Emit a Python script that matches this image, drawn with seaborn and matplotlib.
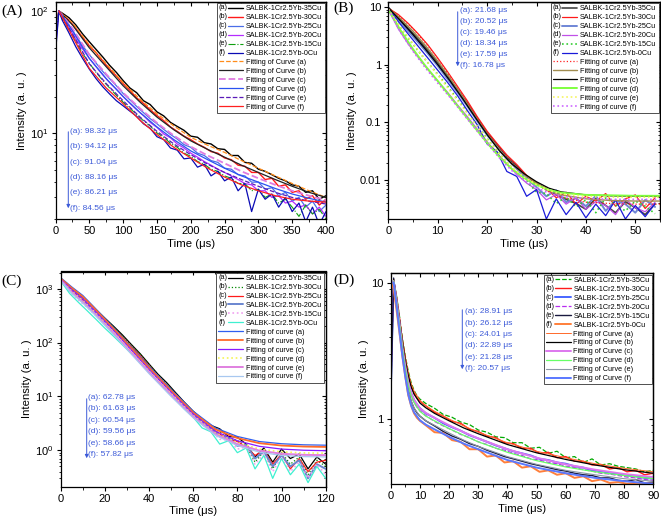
import numpy as np
import matplotlib
matplotlib.use("Agg")
import matplotlib.pyplot as plt
import matplotlib.ticker as mticker
from matplotlib.legend_handler import HandlerLine2D
from matplotlib.text import Text
import seaborn as sns

# ------------------ DATA ------------------
SAMPLES = ["SALBK-1Cr2.5Yb-35Cu", "SALBK-1Cr2.5Yb-30Cu", "SALBK-1Cr2.5Yb-25Cu",
           "SALBK-1Cr2.5Yb-20Cu", "SALBK-1Cr2.5Yb-15Cu", "SALBK-1Cr2.5Yb-0Cu"]
TAGS = ["a", "b", "c", "d", "e", "f"]

# panel (A)
A_TIME = [0, 5, 10, 20, 30, 40, 50, 60, 70, 80, 90, 100, 110, 120, 130, 140, 150, 160, 170, 180,
          190, 200, 210, 220, 230, 240, 250, 260, 270, 280, 290, 300, 310, 320, 330, 340, 350,
          360, 370, 380, 390, 400]
A_A = [70, 100, 96, 88, 77, 65, 56, 48.5, 42, 36, 31.5, 27, 23.5, 21.5, 18.5, 17.2, 15.0, 13.9,
       12.3, 11.4, 10.6, 9.5, 9.3, 8.4, 8.2, 7.5, 7.4, 6.6, 6.6, 5.8, 5.7, 5.1, 4.9, 4.6, 4.3,
       4.1, 3.8, 3.7, 3.3, 3.4, 2.9, 3.1]
A_B = [65, 100, 94, 84, 72, 61, 52, 45.5, 39, 33.5, 29.5, 25.5, 22.5, 19.5, 17.6, 15.6, 14.0,
       12.7, 11.3, 10.4, 9.5, 8.9, 8.2, 7.7, 7.1, 6.9, 6.3, 6.1, 5.5, 5.4, 4.8, 4.8, 4.2, 4.3,
       3.7, 3.8, 3.3, 3.4, 2.9, 3.1, 2.6, 2.9]
A_C = [60, 100, 90, 77, 63, 52, 44, 37.5, 32, 28, 24.5, 21.2, 18.8, 16.6, 14.8, 13.2, 12.0, 10.8,
       9.8, 9.0, 8.1, 7.7, 6.9, 6.6, 6.0, 5.8, 5.2, 5.1, 4.6, 4.5, 4.0, 4.0, 3.5, 3.6, 3.1, 3.3,
       2.8, 3.0, 2.5, 2.8, 2.3, 2.6]
A_D = [50, 100, 88, 73, 59, 49, 41, 35, 30, 26, 23, 20, 17.6, 15.6, 14.0, 12.3, 11.2, 9.9, 9.2,
       8.2, 7.6, 6.9, 6.4, 5.9, 5.5, 5.1, 4.8, 4.5, 4.2, 3.9, 3.8, 3.4, 3.4, 3.0, 3.1, 2.7, 2.8,
       2.5, 2.6, 2.2, 2.5, 2.1]
A_E = [55, 100, 86, 70, 56, 45, 37.5, 31.5, 27, 23.5, 20.5, 18, 16, 14.3, 12.7, 11.5, 10.1, 9.3,
       8.3, 7.7, 6.9, 6.5, 5.9, 5.6, 5.1, 4.9, 4.5, 4.3, 3.9, 3.9, 3.4, 3.5, 3.0, 3.2, 2.7, 2.9,
       2.5, 2.1, 2.6, 2.2, 2.4, 2.0]
A_F = [45, 100, 84, 66, 51, 41, 33.5, 28, 24, 21, 18.5, 16.8, 15.2, 13.8, 12.0, 11.0, 9.4, 8.9,
       7.6, 7.3, 6.2, 6.3, 5.3, 5.6, 4.5, 4.9, 4.1, 4.4, 3.4, 3.9, 2.3, 3.5, 2.9, 3.2, 2.5, 3.0,
       2.3, 2.7, 1.9, 2.5, 1.8, 2.3]
A_FIT_TIME = [5, 25, 50, 75, 100, 125, 150, 175, 200, 225, 250, 275, 300, 325, 350, 375, 400]
A_FIT_A = [100, 80, 53, 37, 26, 19, 14.5, 11.5, 9.3, 8.0, 7.0, 6.0, 5.2, 4.5, 3.9, 3.4, 3.0]
A_FIT_B = [100, 77, 50, 35, 24.5, 18, 13.6, 10.7, 8.7, 7.4, 6.4, 5.5, 4.8, 4.2, 3.7, 3.3, 3.0]
A_FIT_C = [100, 72, 44, 30.5, 21.5, 16, 12.2, 9.6, 7.8, 6.6, 5.7, 4.9, 4.3, 3.8, 3.4, 3.1, 2.85]
A_FIT_D = [100, 69, 41, 28, 20, 14.8, 11.3, 8.9, 7.2, 6.1, 5.2, 4.5, 4.0, 3.55, 3.2, 2.95, 2.75]
A_FIT_E = [100, 65, 37, 25.5, 18.5, 13.6, 10.4, 8.2, 6.7, 5.6, 4.8, 4.2, 3.7, 3.3, 3.0, 2.8, 2.65]
A_FIT_F = [100, 62, 34, 23.5, 17.5, 12.8, 9.8, 7.7, 6.3, 5.2, 4.4, 3.8, 3.4, 3.1, 2.9, 2.8, 2.75]
A_TAU = [98.32, 94.12, 91.04, 88.16, 86.21, 84.56]

# panel (B)
B_TIME = [0, 2, 4, 6, 8, 10, 12, 14, 16, 18, 20, 22, 24, 26, 28, 30, 32, 34, 36, 38, 40, 42, 44,
          46, 48, 50, 52, 54]
B_A = [9.8, 6.6, 4.3, 2.8, 1.75, 1.08, 0.64, 0.37, 0.215, 0.118, 0.066, 0.041, 0.025, 0.0175,
       0.0115, 0.0088, 0.0068, 0.0055, 0.0046, 0.0039, 0.0031, 0.0048, 0.0036, 0.0027, 0.0042,
       0.0033, 0.0025, 0.0038]
B_B = [9.5, 7.4, 5.2, 3.45, 2.2, 1.3, 0.75, 0.42, 0.235, 0.125, 0.07, 0.043, 0.027, 0.0185,
       0.012, 0.0085, 0.0072, 0.0049, 0.0061, 0.0038, 0.0052, 0.0043, 0.0058, 0.0035, 0.0047,
       0.0055, 0.0032, 0.0049]
B_C = [9.6, 6.0, 3.8, 2.45, 1.55, 0.95, 0.56, 0.33, 0.19, 0.105, 0.06, 0.037, 0.023, 0.0155,
       0.0105, 0.0075, 0.0052, 0.0066, 0.0041, 0.0048, 0.0035, 0.0053, 0.0029, 0.0044, 0.0038,
       0.0027, 0.0045, 0.0034]
B_D = [9.0, 4.2, 2.3, 1.35, 0.82, 0.52, 0.33, 0.2, 0.125, 0.076, 0.046, 0.029, 0.019, 0.0125,
       0.0088, 0.0068, 0.0045, 0.0056, 0.0038, 0.0049, 0.0031, 0.0042, 0.0036, 0.0025, 0.0046,
       0.0033, 0.0028, 0.0041]
B_E = [9.2, 5.0, 2.9, 1.75, 1.08, 0.68, 0.42, 0.25, 0.15, 0.088, 0.052, 0.032, 0.02, 0.0135,
       0.0095, 0.0062, 0.0058, 0.0039, 0.0051, 0.0034, 0.0045, 0.0027, 0.0049, 0.0037, 0.0029,
       0.0043, 0.0035, 0.0026]
B_F = [9.7, 5.6, 3.4, 2.1, 1.3, 0.8, 0.49, 0.29, 0.16, 0.09, 0.042, 0.031, 0.014, 0.0115,
       0.0052, 0.0068, 0.0021, 0.0047, 0.0025, 0.0041, 0.0022, 0.0038, 0.0024, 0.0045, 0.0021,
       0.0036, 0.0023, 0.0039]
B_FIT_TIME = [0, 2.5, 5, 7.5, 10, 12.5, 15, 17.5, 20, 22.5, 25, 27.5, 30, 32.5, 35, 40, 45, 50, 55]
B_FIT_A = [9.5, 6.6, 4.2, 2.4, 1.28, 0.62, 0.29, 0.135, 0.065, 0.034, 0.02, 0.0125, 0.0085,
           0.0062, 0.005, 0.0041, 0.0039, 0.0038, 0.0038]
B_FIT_B = [9.6, 6.2, 3.8, 2.15, 1.15, 0.58, 0.28, 0.13, 0.063, 0.033, 0.019, 0.0125, 0.0088,
           0.0066, 0.0055, 0.0047, 0.0044, 0.0043, 0.0043]
B_FIT_C = [9.7, 5.7, 3.3, 1.85, 1.0, 0.52, 0.26, 0.125, 0.061, 0.032, 0.019, 0.0128, 0.0093,
           0.0072, 0.0062, 0.0055, 0.0053, 0.0052, 0.0052]
B_FIT_D = [9.0, 3.9, 1.85, 0.95, 0.52, 0.28, 0.15, 0.081, 0.044, 0.025, 0.0155, 0.0108, 0.0082,
           0.0067, 0.006, 0.0055, 0.0054, 0.0053, 0.0053]
B_FIT_E = [9.2, 4.4, 2.3, 1.22, 0.66, 0.35, 0.185, 0.097, 0.051, 0.028, 0.0165, 0.0112, 0.0083,
           0.0066, 0.0057, 0.0052, 0.005, 0.005, 0.005]
B_FIT_F = [9.0, 3.6, 1.7, 0.88, 0.48, 0.27, 0.145, 0.079, 0.043, 0.024, 0.0145, 0.0098, 0.0073,
           0.0059, 0.0052, 0.0048, 0.0046, 0.0046, 0.0046]
B_TAU = [21.68, 20.52, 19.46, 18.34, 17.59, 16.78]

# panel (C)
C_TIME = [0, 4, 8, 12, 16, 20, 24, 28, 32, 36, 40, 44, 48, 52, 56, 60, 64, 68, 72, 76, 80, 84,
          88, 92, 96, 100, 104, 108, 112, 116, 120]
C_A = [1550, 1100, 820, 600, 410, 285, 200, 138, 92, 62, 40, 26, 18, 11.8, 7.8, 5.3, 3.8, 2.9,
       2.5, 1.8, 1.75, 1.3, 0.75, 1.1, 0.6, 1.05, 0.7, 0.85, 0.45, 0.75, 0.55]
C_B = [1520, 1040, 780, 570, 395, 275, 195, 132, 88, 60, 39, 25, 17, 11.2, 7.5, 5.1, 3.6, 2.7,
       2.2, 1.7, 1.5, 1.2, 0.6, 0.95, 0.45, 0.9, 0.55, 0.75, 0.35, 0.65, 0.5]
C_C = [1500, 990, 730, 530, 370, 262, 185, 126, 84, 57, 37, 24, 16.2, 10.8, 7.2, 4.9, 3.4, 2.6,
       2.0, 1.6, 1.45, 1.15, 0.8, 1.0, 0.55, 0.85, 0.45, 0.7, 0.4, 0.6, 0.65]
C_D = [1480, 940, 680, 500, 350, 245, 172, 118, 79, 53, 35, 23, 15.3, 10.2, 6.8, 4.7, 3.2, 2.5,
       1.8, 1.7, 1.2, 1.25, 0.7, 0.95, 0.5, 0.8, 0.5, 0.65, 0.3, 0.55, 0.45]
C_E = [1450, 880, 620, 450, 315, 222, 155, 107, 72, 49, 32, 21, 14.2, 9.6, 6.4, 4.4, 3.0, 2.3,
       1.6, 1.55, 1.05, 1.15, 0.55, 0.85, 0.4, 0.75, 0.4, 0.6, 0.3, 0.55, 0.35]
C_F = [1400, 820, 560, 390, 270, 185, 130, 90, 62, 42, 28, 19, 12.5, 8.6, 5.8, 4.1, 2.6, 2.2,
       1.3, 1.5, 0.9, 1.1, 0.45, 0.8, 0.3, 0.7, 0.35, 0.55, 0.25, 0.5, 0.3]
C_FIT_TIME = [0, 5, 10, 15, 20, 25, 30, 40, 50, 60, 70, 80, 90, 100, 110, 120]
C_FIT_A = [1600, 1080, 750, 460, 280, 170, 100, 36, 13.5, 5.3, 2.6, 1.8, 1.45, 1.32, 1.26, 1.24]
C_FIT_B = [1550, 1030, 710, 440, 268, 162, 96, 34, 12.8, 5.0, 2.45, 1.68, 1.35, 1.22, 1.17, 1.15]
C_FIT_C = [1500, 960, 650, 405, 248, 150, 89, 31.5, 11.9, 4.7, 2.25, 1.5, 1.18, 1.05, 1.0, 0.98]
C_FIT_D = [1450, 900, 600, 380, 232, 140, 83, 29.5, 11.2, 4.4, 2.1, 1.38, 1.05, 0.93, 0.89, 0.88]
C_FIT_E = [1450, 860, 570, 360, 220, 133, 79, 28, 10.6, 4.2, 2.0, 1.3, 0.98, 0.86, 0.82, 0.81]
C_FIT_F = [1400, 820, 540, 340, 208, 126, 75, 26.5, 10.0, 4.0, 1.9, 1.22, 0.92, 0.8, 0.76, 0.75]
C_TAU = [62.78, 61.63, 60.54, 59.56, 58.66, 57.82]

# panel (D)
D_TIME = [0, 1, 2, 3, 4, 5, 6, 7, 8, 9, 10, 12, 15, 18, 21, 24, 27, 30, 33, 36, 39, 42, 45, 48,
          51, 54, 57, 60, 63, 66, 69, 72, 75, 78, 81, 84, 87, 90]
D_A = [2.0, 10.5, 8.0, 5.7, 3.9, 2.9, 2.25, 1.85, 1.62, 1.48, 1.4, 1.3, 1.2, 1.08, 1.03, 0.95,
       0.91, 0.83, 0.8, 0.74, 0.73, 0.67, 0.67, 0.61, 0.62, 0.56, 0.58, 0.52, 0.53, 0.48, 0.51,
       0.46, 0.47, 0.45, 0.44, 0.43, 0.41, 0.42]
D_B = [2.0, 10.4, 7.8, 5.5, 3.75, 2.75, 2.1, 1.75, 1.55, 1.43, 1.35, 1.25, 1.12, 1.05, 0.96, 0.93,
       0.84, 0.81, 0.75, 0.73, 0.67, 0.66, 0.61, 0.61, 0.56, 0.57, 0.52, 0.53, 0.49, 0.49, 0.46,
       0.465, 0.43, 0.44, 0.41, 0.42, 0.39, 0.40]
D_C = [1.5, 10.3, 7.4, 5.1, 3.4, 2.45, 1.85, 1.55, 1.38, 1.28, 1.2, 1.1, 1.02, 0.93, 0.87, 0.82,
       0.76, 0.72, 0.68, 0.64, 0.61, 0.58, 0.56, 0.54, 0.51, 0.5, 0.48, 0.47, 0.45, 0.44, 0.42,
       0.415, 0.4, 0.395, 0.385, 0.38, 0.37, 0.365]
D_D = [1.5, 10.2, 7.3, 5.0, 3.3, 2.35, 1.78, 1.48, 1.32, 1.22, 1.15, 1.06, 0.96, 0.89, 0.83, 0.77,
       0.73, 0.68, 0.65, 0.61, 0.59, 0.56, 0.54, 0.51, 0.5, 0.48, 0.47, 0.45, 0.44, 0.425, 0.415,
       0.4, 0.395, 0.385, 0.375, 0.37, 0.36, 0.355]
D_E = [1.2, 10.8, 7.1, 4.7, 3.1, 2.2, 1.62, 1.35, 1.2, 1.11, 1.05, 0.97, 0.89, 0.81, 0.75, 0.71,
       0.66, 0.63, 0.59, 0.56, 0.53, 0.51, 0.49, 0.47, 0.455, 0.44, 0.425, 0.415, 0.4, 0.39, 0.385,
       0.37, 0.37, 0.355, 0.35, 0.36, 0.34, 0.345]
D_F = [10.0, 9.0, 6.3, 4.3, 2.9, 2.05, 1.5, 1.25, 1.1, 1.02, 0.97, 0.9, 0.8, 0.79, 0.7, 0.68, 0.6,
       0.6, 0.53, 0.54, 0.48, 0.49, 0.44, 0.45, 0.41, 0.42, 0.39, 0.4, 0.37, 0.38, 0.35, 0.36,
       0.34, 0.345, 0.335, 0.34, 0.34, 0.335]
D_FIT_TIME = [1, 2, 3, 4, 5, 6, 7, 8, 10, 12, 15, 20, 25, 30, 40, 50, 60, 70, 80, 90]
D_FIT_A = [10.5, 7.9, 5.6, 3.85, 2.85, 2.2, 1.82, 1.6, 1.37, 1.25, 1.14, 1.0, 0.89, 0.8, 0.67,
           0.58, 0.52, 0.47, 0.435, 0.41]
D_FIT_B = [10.5, 7.7, 5.4, 3.7, 2.7, 2.08, 1.72, 1.52, 1.31, 1.21, 1.1, 0.97, 0.86, 0.78, 0.65,
           0.565, 0.505, 0.46, 0.425, 0.4]
D_FIT_C = [10.3, 7.4, 5.1, 3.4, 2.45, 1.86, 1.55, 1.38, 1.2, 1.11, 1.02, 0.9, 0.8, 0.72, 0.6,
           0.52, 0.465, 0.425, 0.395, 0.375]
D_FIT_D = [10.3, 7.3, 5.0, 3.3, 2.35, 1.78, 1.48, 1.32, 1.14, 1.05, 0.97, 0.85, 0.76, 0.68, 0.57,
           0.495, 0.445, 0.41, 0.385, 0.365]
D_FIT_E = [10.2, 7.1, 4.7, 3.1, 2.2, 1.64, 1.36, 1.2, 1.05, 0.97, 0.9, 0.79, 0.7, 0.63, 0.53,
           0.465, 0.42, 0.39, 0.365, 0.35]
D_FIT_F = [10.0, 6.8, 4.4, 2.9, 2.05, 1.52, 1.26, 1.12, 0.98, 0.91, 0.84, 0.74, 0.66, 0.6, 0.5,
           0.44, 0.4, 0.37, 0.35, 0.335]
D_TAU = [28.91, 26.12, 24.01, 22.89, 21.28, 20.57]

# ------------------ STYLE ------------------
W, H = 661, 523
sns.set_style("ticks", {"axes.edgecolor": "black", "xtick.color": "black", "ytick.color": "black",
                        "text.color": "black", "axes.labelcolor": "black"})
plt.rcParams["font.family"] = ["Liberation Sans", "DejaVu Sans"]
plt.rcParams["axes.linewidth"] = 0.9
TAU_COLOR = "#3c5ad8"
LEG_SIZE = 5.2


class TagHandler(HandlerLine2D):
    """Origin-style legend entry: '(a)' followed by the line sample."""

    def __init__(self, tag, **kw):
        super().__init__(**kw)
        self.tag = tag

    def create_artists(self, legend, orig_handle, xdescent, ydescent, width, height, fontsize, trans):
        shift = fontsize * 1.3
        arts = super().create_artists(legend, orig_handle, xdescent - shift, ydescent,
                                      width - shift, height, fontsize, trans)
        tag = Text(-xdescent, (height - ydescent) / 2, f"({self.tag})", fontsize=fontsize,
                   ha="left", va="center", transform=trans)
        return [tag] + arts


def px_rect(left, top, right, bottom):
    return [left / W, 1 - bottom / H, (right - left) / W, (bottom - top) / H]


def draw_panel(fig, p):
    ax = fig.add_axes(px_rect(*p["box"]))
    ax.set_yscale("log")
    for vals, (c, lw, ls), name in zip(p["data"], p["data_style"], SAMPLES):
        sns.lineplot(x=p["time"], y=vals, ax=ax, color=c, linewidth=lw, linestyle=ls,
                     label=name, estimator=None, sort=False, legend=False)
    for vals, (c, lw, ls), tag in zip(p["fits"], p["fit_style"], TAGS):
        sns.lineplot(x=p["fit_time"], y=vals, ax=ax, color=c, linewidth=lw, linestyle=ls,
                     label=f"{p['fit_word']} ({tag})", estimator=None, sort=False, legend=False)

    ax.set_xlim(*p["xlim"])
    ax.set_ylim(*p["ylim"])
    ax.xaxis.set_major_locator(mticker.MultipleLocator(p["xmajor"]))
    ax.xaxis.set_minor_locator(mticker.MultipleLocator(p["xmajor"] / 2))
    ax.yaxis.set_major_locator(mticker.LogLocator(base=10, numticks=20))
    ax.yaxis.set_minor_locator(mticker.LogLocator(base=10, subs=np.arange(2, 10), numticks=20))
    ax.yaxis.set_minor_formatter(mticker.NullFormatter())
    if p["plain"]:
        ax.yaxis.set_major_formatter(mticker.FuncFormatter(lambda v, _: f"{v:g}"))
    ax.tick_params(which="both", direction="out", labelsize=8, pad=2)
    ax.tick_params(which="major", length=3, width=0.8)
    ax.tick_params(which="minor", length=1.8, width=0.6)
    ax.set_xlabel("Time (μs)", fontsize=8.2, labelpad=2)
    ax.set_ylabel("Intensity (a. u. )", fontsize=8.2, labelpad=2)

    top = ax.secondary_xaxis("top")
    top.xaxis.set_major_locator(mticker.MultipleLocator(p["xmajor"]))
    top.xaxis.set_minor_locator(mticker.MultipleLocator(p["xmajor"] / 2))
    top.xaxis.set_major_formatter(mticker.NullFormatter())
    top.tick_params(which="both", direction="in")
    top.tick_params(which="major", length=3, width=0.8)
    top.tick_params(which="minor", length=1.8, width=0.6)
    right = ax.secondary_yaxis("right")
    right.yaxis.set_major_locator(mticker.LogLocator(base=10, numticks=20))
    right.yaxis.set_minor_locator(mticker.LogLocator(base=10, subs=np.arange(2, 10), numticks=20))
    right.yaxis.set_major_formatter(mticker.NullFormatter())
    right.yaxis.set_minor_formatter(mticker.NullFormatter())
    right.tick_params(which="both", direction="in")
    right.tick_params(which="major", length=3, width=0.8)
    right.tick_params(which="minor", length=1.8, width=0.6)

    handles, labels = ax.get_legend_handles_labels()
    hmap = {h: TagHandler(t) for h, t in zip(handles[:6], TAGS)}
    leg = ax.legend(handles, labels, handler_map=hmap, loc="upper right", bbox_to_anchor=(1, 1),
                    prop={"size": LEG_SIZE}, handlelength=3.4, handletextpad=0.4,
                    labelspacing=0.26, borderpad=0.3, borderaxespad=0.2, fancybox=False,
                    framealpha=1, edgecolor="#333333")
    leg.get_frame().set_linewidth(0.6)

    # lifetime list with downward arrow
    ax_x, y0, y1 = p["arrow"]
    fig.add_artist(matplotlib.patches.FancyArrowPatch(
        (ax_x / W, 1 - y0 / H), (ax_x / W, 1 - y1 / H), transform=fig.transFigure,
        arrowstyle="-|>", mutation_scale=5, color=TAU_COLOR, lw=0.7))
    tx, ty, step = p["tau_pos"]
    for i, (tag, tau) in enumerate(zip(TAGS, p["tau"])):
        fig.text(tx / W, 1 - (ty + i * step) / H, f"({tag}): {tau:.2f} μs", color=TAU_COLOR,
                 fontsize=6.0, ha="left", va="center")
    fig.text(p["label_pos"][0] / W, 1 - p["label_pos"][1] / H, p["label"],
             family="Liberation Serif", fontsize=11, ha="left", va="center")
    return ax


PANELS = [
    dict(label="(A)", label_pos=(1, 11), box=(55.5, 1.7, 326, 219),
         time=A_TIME, data=[A_A, A_B, A_C, A_D, A_E, A_F],
         fit_time=A_FIT_TIME, fits=[A_FIT_A, A_FIT_B, A_FIT_C, A_FIT_D, A_FIT_E, A_FIT_F],
         data_style=[("black", 1.0, "-"), ("#ff1a1a", 1.0, "-"), ("#4a6ee8", 0.9, "-"),
                     ("#b52cff", 0.9, "-"), ("#10a010", 0.8, "-."), ("#0a0ab4", 0.9, "-")],
         fit_style=[("#ff8c1a", 0.9, "--"), ("#222222", 0.9, "-"), ("#e07be0", 1.3, "--"),
                    ("#2a52f0", 0.9, "-"), ("#5a1ab8", 0.9, "--"), ("#ff2020", 0.9, "-")],
         fit_word="Fitting of Curve", xlim=(0, 400), ylim=(2.0, 119), xmajor=50, plain=False,
         tau=A_TAU, arrow=(68.3, 129, 211), tau_pos=(70.5, 131.7, 15.3)),
    dict(label="(B)", label_pos=(333, 8.5), box=(388.3, 1.7, 660, 219),
         time=B_TIME, data=[B_A, B_B, B_C, B_D, B_E, B_F],
         fit_time=B_FIT_TIME, fits=[B_FIT_A, B_FIT_B, B_FIT_C, B_FIT_D, B_FIT_E, B_FIT_F],
         data_style=[("#444444", 1.2, "-"), ("#ff1a1a", 0.9, "-"), ("#6f86d6", 1.4, "-"),
                     ("#c050e8", 0.9, "-"), ("#33cc33", 1.2, ":"), ("#1a1ad9", 0.9, "-")],
         fit_style=[("#ff2020", 0.9, ":"), ("#a08c50", 1.0, "-"), ("black", 0.9, "-"),
                    ("#7fff3f", 1.4, "-"), ("#f5f560", 1.2, ":"), ("#cc66ff", 1.2, ":")],
         fit_word="Fitting of curve", xlim=(0, 55), ylim=(0.0021, 12.3), xmajor=10, plain=True,
         tau=B_TAU, arrow=(457.7, 9, 69), tau_pos=(460, 10.7, 11.0)),
    dict(label="(C)", label_pos=(1, 281), box=(60.7, 271.5, 325.7, 486.7),
         time=C_TIME, data=[C_A, C_B, C_C, C_D, C_E, C_F],
         fit_time=C_FIT_TIME, fits=[C_FIT_A, C_FIT_B, C_FIT_C, C_FIT_D, C_FIT_E, C_FIT_F],
         data_style=[("black", 0.9, "-"), ("#008800", 0.9, ":"), ("#ff1a1a", 0.9, "-"),
                     ("#6a86d0", 1.4, "-"), ("#f0a0f0", 1.2, ":"), ("#3ff0d0", 0.9, "-")],
         fit_style=[("#2f5ff0", 0.9, "-"), ("#ff6a2a", 1.3, "-"), ("#8a1aff", 0.9, "-"),
                    ("#f5f555", 1.2, ":"), ("#e080e0", 1.4, "-"), ("#a8c8f0", 0.9, "-")],
         fit_word="Fitting of curve", xlim=(0, 120), ylim=(0.21, 2090), xmajor=20, plain=False,
         tau=C_TAU, arrow=(86.7, 396, 461), tau_pos=(88.3, 397.3, 11.5)),
    dict(label="(D)", label_pos=(333, 280), box=(390.7, 273.3, 653.3, 484.3),
         time=D_TIME, data=[D_A, D_B, D_C, D_D, D_E, D_F],
         fit_time=D_FIT_TIME, fits=[D_FIT_A, D_FIT_B, D_FIT_C, D_FIT_D, D_FIT_E, D_FIT_F],
         data_style=[("#00aa00", 0.9, "--"), ("#ff1a1a", 1.0, "-"), ("#4866ff", 1.4, "-"),
                     ("#b82cf0", 0.9, "--"), ("#1a1a40", 1.0, "-"), ("#ff7f3a", 1.4, "-")],
         fit_style=[("#ff6a2a", 0.7, "-"), ("black", 0.9, "-"), ("#dd77ee", 1.4, "-"),
                    ("#66ff66", 0.9, "-"), ("#8c97a5", 0.8, "-"), ("#5a78ff", 1.4, "-")],
         fit_word="Fitting of Curve", xlim=(0, 90), ylim=(0.332, 11.7), xmajor=10, plain=True,
         tau=D_TAU, arrow=(462.3, 307, 372), tau_pos=(465, 311.7, 11.4)),
]

# ------------------ ENTRY ------------------
if __name__ == "__main__":
    fig = plt.figure(figsize=(W / 100, H / 100), dpi=100)
    for panel in PANELS:
        draw_panel(fig, panel)
    fig.savefig("out.png", dpi=100)
